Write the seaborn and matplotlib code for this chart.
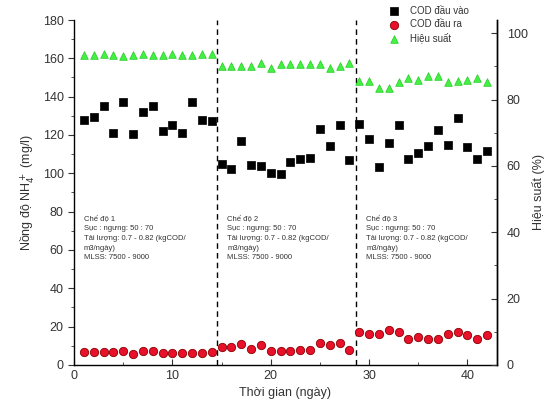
import numpy as np
import pandas as pd
import matplotlib
matplotlib.use("Agg")
import matplotlib.pyplot as plt
from matplotlib.ticker import MultipleLocator
import seaborn as sns

days = list(range(1, 43))
cod_in = [128, 129.5, 135, 121, 137, 120.5, 132, 135, 122, 125, 121, 137, 128, 127.5,
          105, 102, 117, 104.5, 104, 100, 99.5, 106, 107.5, 108, 123, 114, 125, 107,
          125.5, 118, 103.5, 116, 125, 107.5, 110.5, 114, 122.5, 115, 129, 113.5, 107.5, 111.5]
cod_out = [6.5, 6.5, 6.5, 6.5, 7.2, 5.6, 7.0, 7.0, 6.3, 6.3, 6.3, 6.3, 6.3, 6.5,
           9.2, 9.2, 10.8, 8.2, 10.3, 7.5, 7.5, 7.5, 7.8, 7.8, 11.6, 10.3, 11.3, 7.8,
           17.0, 16.2, 16.2, 18.3, 17.2, 13.7, 14.4, 13.4, 13.7, 16.2, 17.2, 15.5, 13.4, 15.8]
efficiency = [93.6, 93.6, 93.8, 93.4, 93.2, 93.6, 93.8, 93.6, 93.6, 93.8, 93.6, 93.6, 93.8, 93.8,
              90.0, 90.0, 90.0, 90.0, 91.0, 89.4, 90.8, 90.8, 90.8, 90.8, 90.8, 89.6, 90.2, 91.0,
              85.5, 85.5, 83.4, 83.4, 85.2, 86.6, 85.8, 87.2, 87.2, 85.2, 85.5, 85.8, 86.6, 85.2]
period_bounds = [14.5, 28.7]
annot_x = [1.0, 15.6, 29.7]
annot_texts = [
    "Chế độ 1\nSục : ngưng: 50 : 70\nTải lượng: 0.7 - 0.82 (kgCOD/\nm3/ngày)\nMLSS: 7500 - 9000",
    "Chế độ 2\nSục : ngưng: 50 : 70\nTải lượng: 0.7 - 0.82 (kgCOD/\nm3/ngày)\nMLSS: 7500 - 9000",
    "Chế độ 3\nSục : ngưng: 50 : 70\nTải lượng: 0.7 - 0.82 (kgCOD/\nm3/ngày)\nMLSS: 7500 - 9000",
]
labels = ["COD đầu vào", "COD đầu ra", "Hiệu suất"]

df = pd.DataFrame({"day": days, "cod_in": cod_in, "cod_out": cod_out, "eff": efficiency})

sns.set_style("ticks")
plt.rcParams['font.family'] = ['Liberation Sans', 'DejaVu Sans']

fig = plt.figure(figsize=(5.49, 4.17), dpi=100)
ax = fig.add_axes([0.135, 0.125, 0.770, 0.827])
ax2 = ax.twinx()

sns.scatterplot(data=df, x="day", y="cod_in", ax=ax, marker="s", color="black",
                edgecolor="black", s=38, linewidth=0.5, label=labels[0], legend=False, zorder=3)
sns.scatterplot(data=df, x="day", y="cod_out", ax=ax, marker="o", color="#e8102a",
                edgecolor="#8b0000", s=36, linewidth=0.6, label=labels[1], legend=False, zorder=3)
sns.scatterplot(data=df, x="day", y="eff", ax=ax2, marker="^", color="#44f044",
                edgecolor="#22cc22", s=30, linewidth=0.5, label=labels[2], legend=False, zorder=3)

for xb in period_bounds:
    ax.axvline(xb, color="black", linestyle=(0, (4, 3)), linewidth=1.0, zorder=2)

for xa, txt in zip(annot_x, annot_texts):
    ax.text(xa, 78, txt, fontsize=5.5, va="top", ha="left", color="#333333", linespacing=1.55)

ax.set_xlim(0, 43)
ax.set_ylim(0, 180)
ax2.set_ylim(0, 104)
ax.xaxis.set_major_locator(MultipleLocator(10))
ax.xaxis.set_minor_locator(MultipleLocator(5))
ax.yaxis.set_major_locator(MultipleLocator(20))
ax.yaxis.set_minor_locator(MultipleLocator(10))
ax2.yaxis.set_major_locator(MultipleLocator(20))
ax2.yaxis.set_minor_locator(MultipleLocator(10))

ax.tick_params(axis="x", which="both", direction="in", labelsize=9, colors="#333333")
ax.tick_params(axis="x", which="major", length=4)
ax.tick_params(axis="x", which="minor", length=2)
ax.tick_params(axis="y", which="both", direction="out", labelsize=9, colors="#333333")
ax.tick_params(axis="y", which="major", length=4)
ax.tick_params(axis="y", which="minor", length=2)
ax2.tick_params(axis="y", which="both", direction="in", labelsize=9, colors="#333333", pad=7)
ax2.tick_params(axis="y", which="major", length=4)
ax2.tick_params(axis="y", which="minor", length=2)

for a in (ax, ax2):
    a.spines["top"].set_visible(False)
    for s in ("left", "right", "bottom"):
        a.spines[s].set_linewidth(1.0)
        a.spines[s].set_color("black")
ax2.spines["left"].set_visible(False)
ax2.spines["bottom"].set_visible(False)

ax.set_xlabel("Thời gian (ngày)", fontsize=9, color="#333333")
ax.set_ylabel("Nồng độ NH$_4^+$ (mg/l)", fontsize=9, color="#333333")
ax2.set_ylabel("Hiệu suất (%)", fontsize=9, color="#333333", rotation=90, labelpad=3)

h1, l1 = ax.get_legend_handles_labels()
h2, l2 = ax2.get_legend_handles_labels()
leg = fig.legend(h1 + h2, l1 + l2, loc="upper left", bbox_to_anchor=(0.69, 1.0),
                 frameon=False, fontsize=7, handletextpad=0.6, labelspacing=0.35,
                 borderaxespad=0.2)
for t in leg.get_texts():
    t.set_color("#333333")

fig.savefig("out.png", dpi=100)
